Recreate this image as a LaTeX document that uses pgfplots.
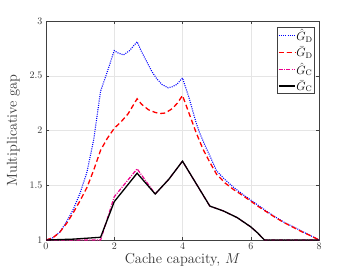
\documentclass[border=0pt]{standalone}
\usepackage{pgfplots}
\pgfplotsset{compat=1.18}
\definecolor{axgray}{gray}{0.25}
\definecolor{gridgray}{gray}{0.9}
\begin{document}
\begin{tikzpicture}
\path (-46pt,-37pt) rectangle (307pt,240pt);
\begin{axis}[
  at={(0pt,0pt)}, anchor=south west,
  scale only axis, width=273pt, height=219pt,
  xmin=0, xmax=8, ymin=1, ymax=3,
  xtick={0,2,4,6,8}, ytick={1,1.5,2,2.5,3},
  yticklabels={1,1.5,2,2.5,3},
  tick align=inside, major tick length=3pt,
  axis line style={axgray, line width=0.5pt},
  tick style={axgray, line width=0.5pt},
  grid=major, major grid style={gridgray, line width=0.5pt},
  ticklabel style={font=\normalsize, text=black!80},
  xlabel={Cache capacity, $M$},
  ylabel={Multiplicative gap},
  label style={font=\Large, text=black!80},
  xlabel style={yshift=3pt},
  ylabel style={yshift=3pt},
  legend style={at={(rel axis cs:0.984,0.973)}, anchor=north east,
    draw=axgray, font=\large, inner xsep=1pt, inner ysep=1pt, row sep=3.2pt,
    nodes={inner sep=0.8pt}},
  legend cell align=left,
  legend image post style={xscale=0.95},
]
\addplot[blue, line width=1.1pt, dash pattern=on 1pt off 1.2pt] coordinates {
(0,1.0) (0.2,1.02) (0.4,1.07) (0.6,1.165) (0.8,1.28) (1.0,1.43) (1.2,1.62) (1.4,1.92) (1.6,2.36)
(1.8,2.54) (2.0,2.73) (2.1,2.71) (2.27,2.69) (2.45,2.73) (2.67,2.81)
(2.8,2.72) (2.95,2.63) (3.1,2.54) (3.24,2.475) (3.4,2.42) (3.58,2.39) (3.7,2.40) (3.83,2.42) (4.0,2.48)
(4.2,2.29) (4.4,2.07) (4.5,1.98) (4.65,1.87) (4.8,1.77) (5.0,1.63) (5.25,1.55) (5.5,1.48)
(5.75,1.42) (6.0,1.365) (6.25,1.31) (6.5,1.255) (6.75,1.205) (7.0,1.158) (7.25,1.12) (7.5,1.08) (7.75,1.04) (8.0,1.0)
};
\addlegendentry{$\hat{G}_{\mathrm{D}}$}
\addplot[red, line width=1.3pt, dash pattern=on 5pt off 3pt] coordinates {
(0,1.0) (0.2,1.02) (0.4,1.07) (0.6,1.15) (0.8,1.25) (1.0,1.36) (1.2,1.48) (1.4,1.64) (1.6,1.82)
(1.8,1.93) (2.0,2.02) (2.2,2.08) (2.4,2.15) (2.67,2.29)
(2.8,2.24) (3.0,2.19) (3.2,2.165) (3.34,2.155) (3.5,2.16) (3.7,2.2) (3.85,2.25) (4.0,2.32)
(4.2,2.15) (4.4,1.98) (4.6,1.83) (4.8,1.71) (5.0,1.60) (5.25,1.52) (5.5,1.46) (5.75,1.41)
(6.0,1.355) (6.25,1.30) (6.5,1.25) (6.75,1.20) (7.0,1.155) (7.25,1.115) (7.5,1.075) (7.75,1.04) (8.0,1.0)
};
\addlegendentry{$\bar{G}_{\mathrm{D}}$}
\addplot[magenta, line width=1.2pt, dash pattern=on 4pt off 1.3pt on 1pt off 1.3pt] coordinates {
(0,1.0) (1.6,1.0) (2.0,1.395) (2.67,1.65) (3.2,1.42) (3.6,1.555) (4.0,1.72)
(4.8,1.31) (5.2,1.265) (5.6,1.205) (6.0,1.12) (6.2,1.065) (6.4,1.0) (8.0,1.0)
};
\addlegendentry{$\hat{G}_{\mathrm{C}}$}
\addplot[black, line width=1.3pt] coordinates {
(0,1.0) (0.8,1.008) (1.6,1.025) (2.0,1.35) (2.67,1.61) (3.2,1.42) (3.6,1.555) (4.0,1.72)
(4.8,1.31) (5.2,1.265) (5.6,1.205) (6.0,1.12) (6.2,1.065) (6.4,1.0) (8.0,1.0)
};
\addlegendentry{$\bar{G}_{\mathrm{C}}$}
\end{axis}
\end{tikzpicture}
\end{document}
